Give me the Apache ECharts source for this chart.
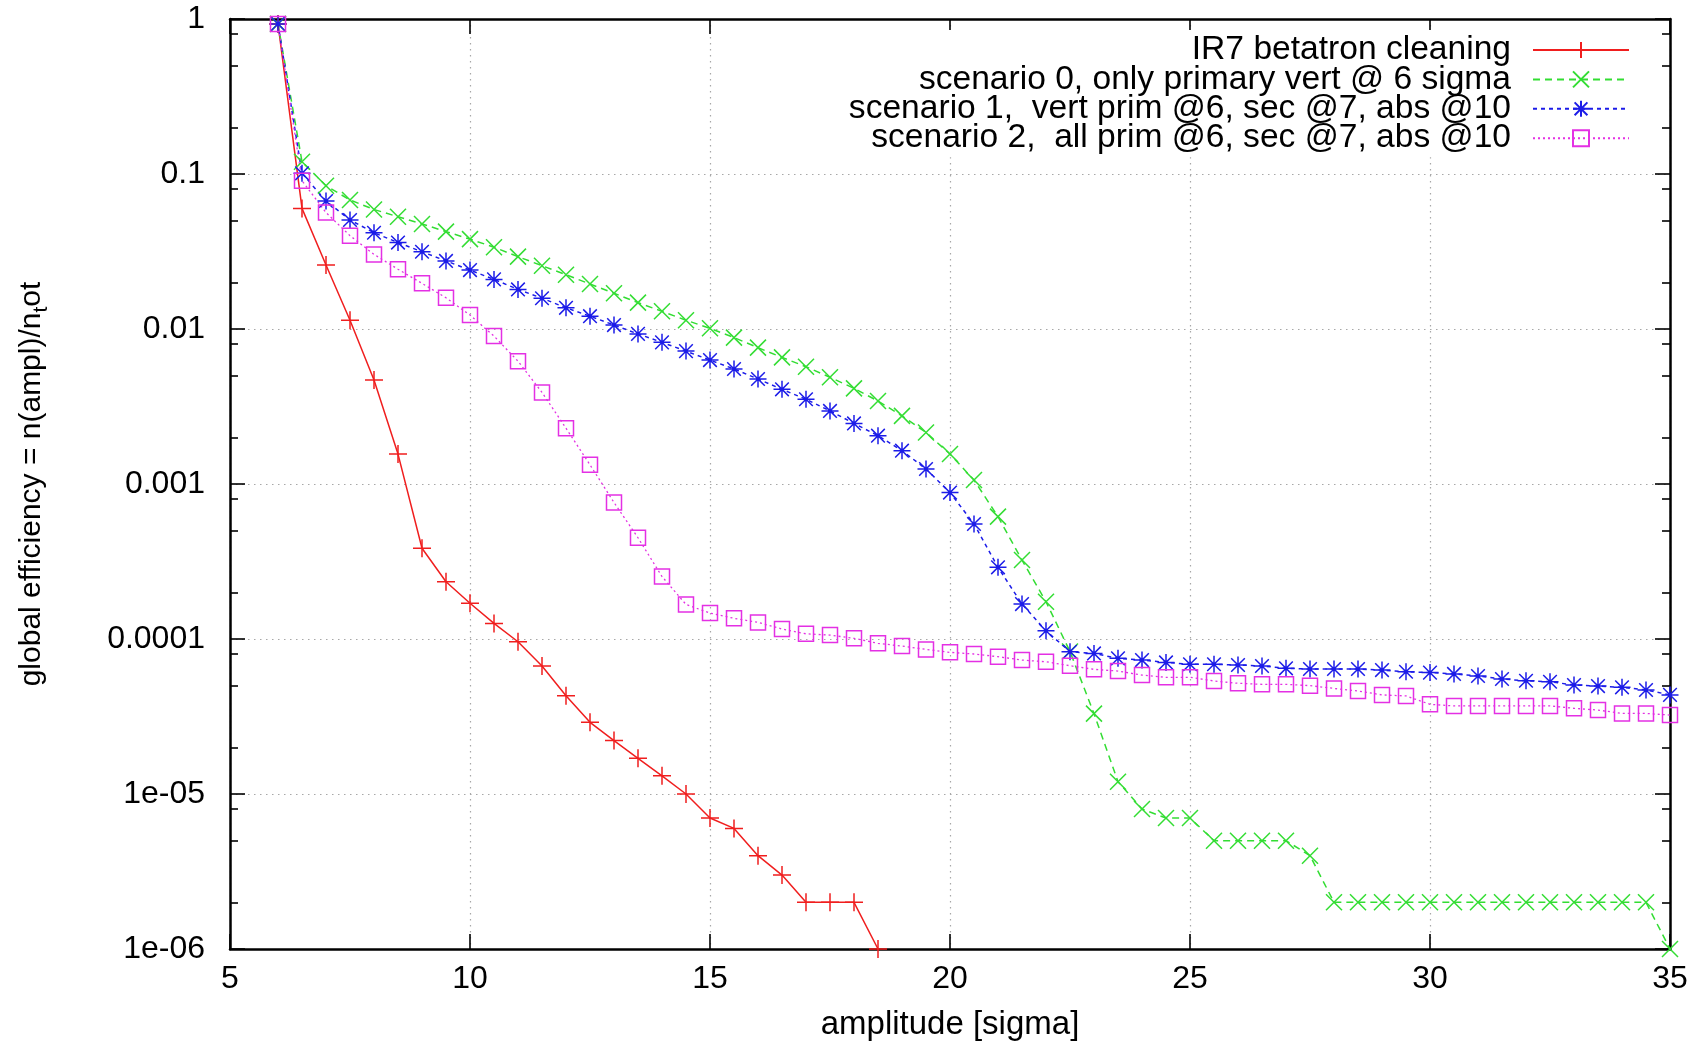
<!DOCTYPE html>
<html>
<head>
<meta charset="utf-8">
<script src="https://cdn.jsdelivr.net/npm/echarts@6/dist/echarts.min.js"></script>
<style>html,body{margin:0;padding:0;background:#fff}#c{width:1704px;height:1041px}</style>
</head>
<body>
<div id="c"></div>
<script>
// ---- data ----
const amplitude = [6, 6.5, 7, 7.5, 8, 8.5, 9, 9.5, 10, 10.5, 11, 11.5, 12, 12.5, 13, 13.5, 14, 14.5, 15, 15.5,
  16, 16.5, 17, 17.5, 18, 18.5, 19, 19.5, 20, 20.5, 21, 21.5, 22, 22.5, 23, 23.5, 24, 24.5, 25, 25.5,
  26, 26.5, 27, 27.5, 28, 28.5, 29, 29.5, 30, 30.5, 31, 31.5, 32, 32.5, 33, 33.5, 34, 34.5, 35];

const ir7Cleaning = [0.93, 0.060, 0.0259, 0.0114, 0.00469, 0.00156, 0.000385, 0.000234, 0.000170, 0.000126,
  0.000096, 0.000067, 0.000043, 0.000029, 0.0000221, 0.000017, 0.0000131, 0.00001, 0.000007, 0.000006,
  0.000004, 0.000003, 0.000002, 0.000002, 0.000002, 0.000001];

const scenario0 = [0.93, 0.12, 0.084, 0.068, 0.059, 0.053, 0.0476, 0.0425, 0.038, 0.0337,
  0.0293, 0.0256, 0.0224, 0.0195, 0.017, 0.0148, 0.013, 0.0114, 0.0101, 0.0088,
  0.00758, 0.00656, 0.00571, 0.00488, 0.00414, 0.00343, 0.00275, 0.00215, 0.00156, 0.00106,
  0.000616, 0.000323, 0.000174, 0.000083, 0.000033, 0.000012, 0.000008, 0.000007, 0.000007, 0.000005,
  0.000005, 0.000005, 0.000005, 0.000004, 0.000002, 0.000002, 0.000002, 0.000002, 0.000002, 0.000002,
  0.000002, 0.000002, 0.000002, 0.000002, 0.000002, 0.000002, 0.000002, 0.000002, 0.000001];

const scenario1 = [0.93, 0.101, 0.067, 0.0505, 0.0418, 0.0361, 0.0315, 0.0275, 0.024, 0.0209,
  0.018, 0.0158, 0.0137, 0.0121, 0.0106, 0.0093, 0.0082, 0.0072, 0.0063, 0.00552,
  0.00476, 0.00408, 0.00352, 0.00296, 0.00246, 0.00205, 0.00164, 0.00125, 0.00088, 0.000552,
  0.00029, 0.000168, 0.000113, 0.0000828, 0.0000807, 0.000075, 0.0000731, 0.0000706, 0.0000687, 0.0000687,
  0.000068, 0.000067, 0.0000647, 0.000064, 0.000064, 0.000064, 0.000063, 0.0000615, 0.0000607, 0.0000595,
  0.0000577, 0.0000552, 0.0000538, 0.000053, 0.0000505, 0.0000497, 0.0000488, 0.0000469, 0.0000436];

const scenario2 = [0.93, 0.0906, 0.0564, 0.040, 0.0303, 0.0243, 0.0197, 0.0159, 0.0123, 0.0090,
  0.0062, 0.0039, 0.00229, 0.00133, 0.00076, 0.00045, 0.000253, 0.000167, 0.000147, 0.000136,
  0.000128, 0.000116, 0.000108, 0.000106, 0.000101, 0.0000938, 0.00009, 0.0000857, 0.000082, 0.00008,
  0.0000769, 0.0000731, 0.0000713, 0.0000672, 0.0000637, 0.0000621, 0.0000585, 0.0000566, 0.0000566, 0.0000536,
  0.0000518, 0.000051, 0.000051, 0.00005, 0.000048, 0.0000462, 0.0000436, 0.0000429, 0.0000379, 0.000037,
  0.000037, 0.000037, 0.000037, 0.000037, 0.0000357, 0.0000348, 0.0000331, 0.0000331, 0.0000323];

const seriesNames = [
  'IR7 betatron cleaning',
  'scenario 0, only primary vert @ 6 sigma',
  'scenario 1,  vert prim @6, sec @7, abs @10',
  'scenario 2,  all prim @6, sec @7, abs @10'
];

const yTickLabels = ['1e-06', '1e-05', '0.0001', '0.001', '0.01', '0.1', '1'];
const xTickLabels = ['5', '10', '15', '20', '25', '30', '35'];
const minorTickValues = [2e-6, 5e-6, 8e-6, 2e-5, 5e-5, 8e-5, 2e-4, 5e-4, 8e-4,
  2e-3, 5e-3, 8e-3, 2e-2, 5e-2, 8e-2, 2e-1, 5e-1, 8e-1];

// ---- chart ----
const FONT = "'Liberation Sans', Arial, Helvetica, sans-serif";
const RED = '#f01e1e', GREEN = '#33dd33', BLUE = '#1c1ce8', PINK = '#e430e4';
const pairs = arr => arr.map((v, i) => [amplitude[i], v]);
const minorLog = minorTickValues.map(v => Math.log10(v));

const gridLine = { show: true, lineStyle: { color: '#a8a8a8', width: 1.2, type: [1.5, 4.5] } };
const axisLine = { show: true, onZero: false, lineStyle: { color: '#000', width: 2.5 } };
const majorTick = { show: true, inside: true, length: 15, lineStyle: { color: '#000', width: 1.6 } };
const minorTickAxis = (pos) => ({
  type: 'value', min: -6, max: 0, position: pos,
  axisLine: { show: false }, axisLabel: { show: false }, splitLine: { show: false },
  axisTick: { show: true, inside: true, length: 8, customValues: minorLog, lineStyle: { color: '#000', width: 1.6 } }
});
const labelText = { fontSize: 32, fontFamily: FONT, color: '#000' };

const chart = echarts.init(document.getElementById('c'));
chart.setOption({
  animation: false,
  backgroundColor: '#fff',
  grid: { left: 230, right: 34, top: 19, bottom: 92, containLabel: false, outerBoundsMode: 'none' },
  legend: {
    orient: 'vertical', align: 'right', right: 66, top: 30, padding: [3, 8, 2, 8],
    itemWidth: 96, itemHeight: 20, itemGap: -4.6, backgroundColor: '#fff', selectedMode: false,
    textStyle: { fontSize: 33.6, fontFamily: FONT, color: '#000', lineHeight: 29.3, padding: [0, 17, 0, 0] },
    data: seriesNames
  },
  xAxis: [
    {
      type: 'value', min: 5, max: 35, interval: 5, position: 'bottom',
      axisLine: axisLine, axisTick: majorTick, splitLine: gridLine,
      axisLabel: Object.assign({ margin: 14, formatter: (v) => xTickLabels[Math.round((v - 5) / 5)] }, labelText),
      name: 'amplitude [sigma]', nameLocation: 'middle', nameGap: 59,
      nameTextStyle: { fontSize: 33, fontFamily: FONT, color: '#000' }
    },
    {
      type: 'value', min: 5, max: 35, interval: 5, position: 'top',
      axisLine: axisLine, axisTick: majorTick, splitLine: { show: false }, axisLabel: { show: false }
    }
  ],
  yAxis: [
    {
      type: 'log', logBase: 10, min: 1e-6, max: 1, splitNumber: 6, position: 'left',
      axisLine: axisLine, axisTick: majorTick, splitLine: gridLine, minorTick: { show: false },
      axisLabel: Object.assign({ margin: 25, formatter: (v) => yTickLabels[Math.round(Math.log10(v)) + 6] }, labelText),
      name: 'global efficiency = n(ampl)/n{s|t}ot', nameLocation: 'middle', nameRotate: 90, nameGap: 178,
      nameTextStyle: { fontSize: 30, fontFamily: FONT, color: '#000',
        rich: { s: { fontSize: 21, fontFamily: FONT, color: '#000', padding: [19, 0, 0, 0] } } }
    },
    {
      type: 'log', logBase: 10, min: 1e-6, max: 1, splitNumber: 6, position: 'right',
      axisLine: axisLine, axisTick: majorTick, splitLine: { show: false }, axisLabel: { show: false }, minorTick: { show: false }
    },
    minorTickAxis('left'),
    minorTickAxis('right')
  ],
  series: [
    {
      name: seriesNames[0], type: 'line', data: pairs(ir7Cleaning), clip: false,
      symbol: 'path://M10,0L10,20M0,10L20,10', symbolSize: 18,
      lineStyle: { color: RED, width: 1.5, type: 'solid' },
      itemStyle: { color: 'transparent', borderColor: RED, borderWidth: 1.5 }
    },
    {
      name: seriesNames[1], type: 'line', data: pairs(scenario0), clip: false,
      symbol: 'path://M0,0L20,20M0,20L20,0', symbolSize: 16,
      lineStyle: { color: GREEN, width: 1.5, type: [7, 5] },
      itemStyle: { color: 'transparent', borderColor: GREEN, borderWidth: 1.5 }
    },
    {
      name: seriesNames[2], type: 'line', data: pairs(scenario1), clip: false,
      symbol: 'path://M10,0L10,20M0,10L20,10M2,2L18,18M2,18L18,2', symbolSize: 17,
      lineStyle: { color: BLUE, width: 1.5, type: [4, 4] },
      itemStyle: { color: 'transparent', borderColor: BLUE, borderWidth: 1.5 }
    },
    {
      name: seriesNames[3], type: 'line', data: pairs(scenario2), clip: false,
      symbol: 'path://M0,0L20,0L20,20L0,20Z', symbolSize: 15,
      lineStyle: { color: PINK, width: 1.3, type: [2, 3] },
      itemStyle: { color: 'transparent', borderColor: PINK, borderWidth: 1.5 }
    }
  ]
});
</script>
</body>
</html>
